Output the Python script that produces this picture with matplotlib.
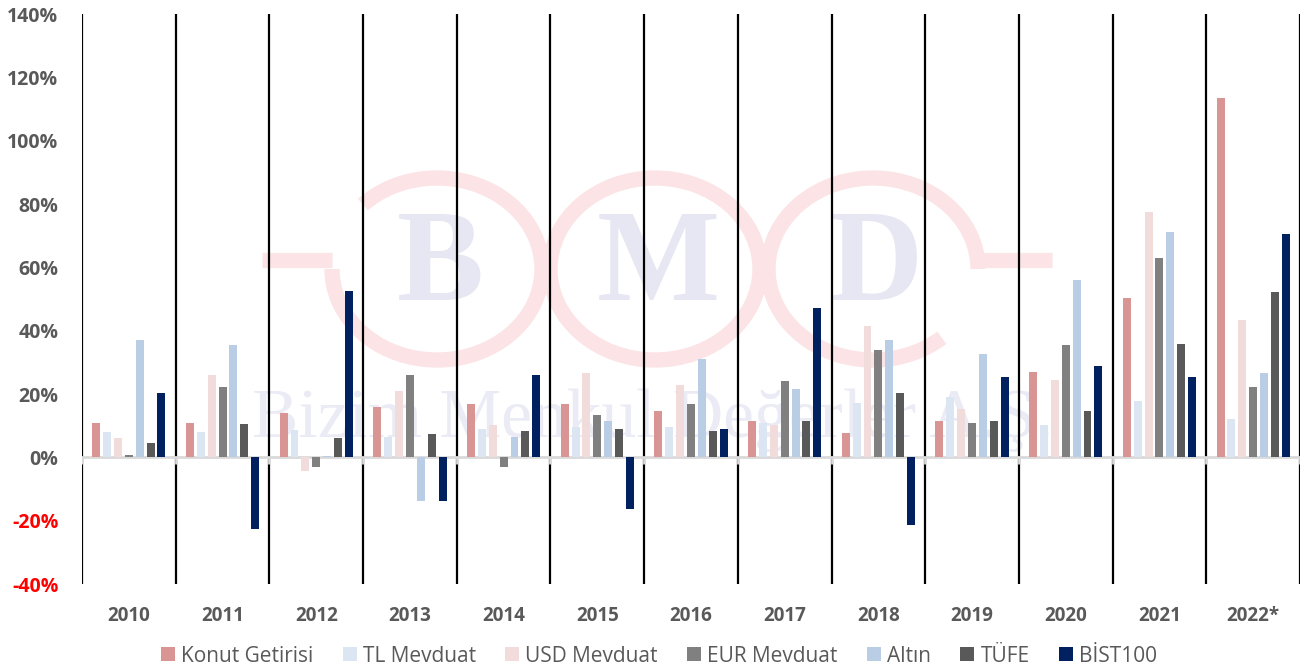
import matplotlib
matplotlib.use("Agg")
import matplotlib.pyplot as plt
from matplotlib.patches import Arc, Patch
import numpy as np

years = ["2010", "2011", "2012", "2013", "2014", "2015", "2016", "2017",
         "2018", "2019", "2020", "2021", "2022*"]
series_names = ["Konut Getirisi", "TL Mevduat", "USD Mevduat", "EUR Mevduat",
                "Altın", "TÜFE", "BİST100"]
konut = [10.8, 11.0, 14.1, 16.0, 17.0, 17.0, 14.5, 11.4, 7.6, 11.4, 27.0, 50.4, 113.4]
tl_mevduat = [7.9, 7.9, 8.5, 6.5, 8.8, 9.5, 9.5, 10.7, 17.2, 19.0, 10.1, 17.7, 12.1]
usd_mevduat = [6.0, 26.1, -4.3, 21.0, 10.2, 26.5, 22.7, 10.1, 41.6, 15.2, 24.5, 77.4, 43.5]
eur_mevduat = [0.8, 22.3, -3.0, 26.1, -3.2, 13.3, 17.0, 24.0, 34.0, 10.8, 35.4, 62.9, 22.2]
altin = [36.9, 35.5, 0.3, -13.8, 6.3, 11.4, 30.9, 21.5, 37.1, 32.7, 56.0, 71.1, 26.5]
tufe = [4.6, 10.4, 6.0, 7.3, 8.3, 8.8, 8.2, 11.4, 20.2, 11.4, 14.6, 35.8, 52.2]
bist100 = [20.4, -22.5, 52.6, -13.7, 25.9, -16.3, 8.8, 47.3, -21.4, 25.3, 29.0, 25.3, 70.5]
y_ticks = [-40, -20, 0, 20, 40, 60, 80, 100, 120, 140]

colors = ["#d99594", "#dce6f2", "#f2dcdb", "#808080", "#b9cde5", "#595959", "#002060"]
all_series = [konut, tl_mevduat, usd_mevduat, eur_mevduat, altin, tufe, bist100]

FONT = "Open Sans"
W, H = 1306, 672
fig = plt.figure(figsize=(W / 100, H / 100), dpi=100)
fig.patch.set_facecolor("white")

# background watermark axes (pixel coordinates, y up)
bg = fig.add_axes([0, 0, 1, 1], zorder=0)
bg.set_xlim(0, W)
bg.set_ylim(0, H)
bg.axis("off")
pink = "#fbe3e6"
lav = "#e7e7f3"
cy = H - 269
ring_lw = 11
centers = [437, 655, 873]
bg.add_patch(Arc((centers[0], cy), 210, 182, theta1=180, theta2=139, color=pink, lw=ring_lw))
bg.add_patch(Arc((centers[1], cy), 210, 182, theta1=0, theta2=360, color=pink, lw=ring_lw))
bg.add_patch(Arc((centers[2], cy), 210, 182, theta1=0, theta2=315, color=pink, lw=ring_lw))
bg.plot([262, centers[0] - 105], [H - 260, H - 260], color=pink, lw=ring_lw, solid_capstyle="butt")
bg.plot([centers[2] + 105, 1052], [H - 260, H - 260], color=pink, lw=ring_lw, solid_capstyle="butt")
for c, letter in zip(centers, ["B", "M", "D"]):
    bg.text(c + 3, cy, letter, ha="center", va="center", fontsize=94, fontweight="bold",
            family="Liberation Serif", color=lav)
bg.text(653, H - 420, "Bizim Menkul Değerler A.Ş.", ha="center", va="center",
        fontsize=50, family="Liberation Serif", color="#ebebf5")

# main axes
left, right = 82 / W, 1300 / W
bottom, top = 1 - 584 / H, 1 - 14 / H
ax = fig.add_axes([left, bottom, right - left, top - bottom], zorder=1)
ax.patch.set_alpha(0)

x = np.arange(len(years))
slot = 0.116
bw = 0.085
for i, (vals, col, name) in enumerate(zip(all_series, colors, series_names)):
    ax.bar(x + (i - 3) * slot, vals, width=bw, color=col, label=name, zorder=3)

ax.set_xlim(-0.5, len(years) - 0.5)
ax.set_ylim(-40, 140)

# vertical separators
for b in np.arange(-0.5, len(years) + 0.5, 1):
    ax.axvline(b, color="black", lw=1.6, zorder=1)
# zero line
ax.axhline(0, color="#d9d9d9", lw=2, zorder=2)
for b in np.arange(-0.5, len(years) + 0.5, 1):
    ax.plot([b, b], [0, -2.2], color="#d9d9d9", lw=2, zorder=2, solid_capstyle="butt")

for s in ax.spines.values():
    s.set_visible(False)

ax.set_yticks(y_ticks)
ax.set_yticklabels([f"{t}%" for t in y_ticks])
ax.tick_params(axis="y", length=0, pad=17, labelsize=14, labelcolor="#595959")
for lbl, t in zip(ax.get_yticklabels(), y_ticks):
    lbl.set_fontweight("bold")
    lbl.set_family(FONT)
    if t < 0:
        lbl.set_color("#ff0000")

ax.set_xticks(x)
ax.set_xticklabels(years)
ax.tick_params(axis="x", length=0, pad=16, labelsize=13.5, labelcolor="#595959")
for lbl in ax.get_xticklabels():
    lbl.set_fontweight("bold")
    lbl.set_family(FONT)

handles = [Patch(facecolor=c, edgecolor="none") for c in colors]
leg = fig.legend(handles, series_names, loc="center", ncol=7,
                 bbox_to_anchor=(659 / W, 1 - 656 / H), frameon=False,
                 prop={"family": FONT, "size": 15},
                 handlelength=0.67, handleheight=0.67, handletextpad=0.3,
                 columnspacing=1.4, labelcolor="#595959")

fig.savefig("out.png", dpi=100, facecolor="white")
